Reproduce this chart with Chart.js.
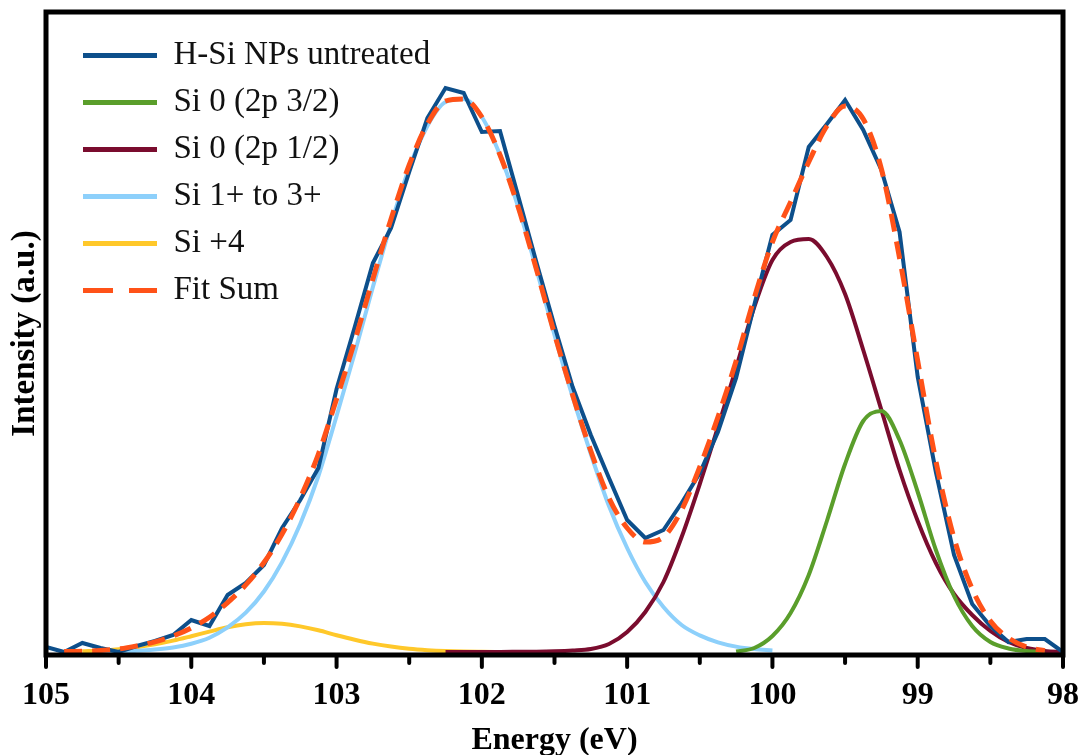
<!DOCTYPE html>
<html>
<head>
<meta charset="utf-8">
<script src="https://cdn.jsdelivr.net/npm/chart.js@4.4.1/dist/chart.umd.min.js"></script>
<style>
  html, body { margin: 0; background: #fff; }
  #wrap { width: 1087px; height: 755px; }
</style>
</head>
<body>
<div id="wrap"><canvas id="xps"></canvas></div>
<script>
// Binding energy grid (eV), one sample every 0.125 eV
const energy = [105, 104.875, 104.75, 104.625, 104.5, 104.375, 104.25, 104.125, 104,
  103.875, 103.75, 103.625, 103.5, 103.375, 103.25, 103.125, 103,
  102.875, 102.75, 102.625, 102.5, 102.375, 102.25, 102.125, 102,
  101.875, 101.75, 101.625, 101.5, 101.375, 101.25, 101.125, 101,
  100.875, 100.75, 100.625, 100.5, 100.375, 100.25, 100.125, 100,
  99.875, 99.75, 99.625, 99.5, 99.375, 99.25, 99.125, 99,
  98.875, 98.75, 98.625, 98.5, 98.375, 98.25, 98.125, 98];

// measured spectrum
const untreated = [5, 0, 9, 4, 0, 6, 11, 17, 32, 26, 57, 69, 87, 124, 152, 184, 263,
  325, 389, 424, 480, 534, 564, 559, 520, 521, 456, 390, 326, 265, 217, 174, 132,
  114, 122, 149, 179, 220, 274, 347, 417, 432, 505, 528, 552, 522, 482, 420, 275,
  180, 97, 48, 26, 10, 13, 13, 0];

// fitted components (null = not drawn there)
const si0_32 = [null, null, null, null, null, null, null, null, null, null, null, null, null, null, null, null, null,
  null, null, null, null, null, null, null, null, null, null, null, null, null, null, null, null,
  null, null, null, null, null, 0.5, 4, 16, 39, 77, 131, 188, 231, 241, 212, 160,
  102, 56, 26, 10, 3.5, 0.9, 0.2, null];

const si0_12 = [null, null, null, null, null, null, null, null, null, null, null, null, null, null, null, null, null,
  null, null, null, null, null, 0, 0, 0.1, 0.1, 0.2, 0.3, 0.7, 1.5, 3, 8, 20,
  40, 70, 115, 168, 225, 284, 345, 392, 410, 413, 395, 358, 302, 242, 182, 131,
  89, 58, 37, 21, 10, 4, 1, 0];

const si1to3 = [null, null, null, 0.1, 0.2, 1.3, 2.5, 4.6, 8.3, 14.3, 24.6, 39.3, 60.5, 89.9, 128, 176, 236,
  299, 365, 428, 484, 526, 550, 553, 535, 497, 445, 383, 317, 255, 198, 146, 104,
  70, 45, 27, 16.6, 9.7, 5.4, 2.9, 1.5, null, null, null, null, null, null, null, null,
  null, null, null, null, null, null, null, null];

const si4 = [null, null, 0.7, 1.5, 2.8, 4.8, 7.7, 11.4, 15.8, 20.4, 24.8, 27.8, 29, 28.2, 25.6, 21.7, 16.8,
  12.3, 8.4, 5.4, 3.2, 1.8, 0.9, 0.4, 0.2, 0.1, 0, null, null, null, null, null, null,
  null, null, null, null, null, null, null, null, null, null, null, null, null, null, null, null,
  null, null, null, null, null, null, null, null];

const fitSum = [null, 0.4, 0.7, 1.6, 3, 6.1, 10.2, 16, 24.1, 34.7, 49.4, 67.1, 89.5, 118, 154, 198, 253,
  311, 373, 433, 487, 528, 551, 553, 535, 497, 445, 383, 318, 257, 201, 154, 124,
  110, 115, 142, 185, 235, 291, 354, 410, 450, 490, 526, 546, 533, 483, 394, 291,
  191, 114, 63, 31, 14, 5, 1.2, null];

const xTickLabels = ["105", "104", "103", "102", "101", "100", "99", "98"];

const SERIF = "'Liberation Serif', 'Times New Roman', serif";

function points(values) {
  return energy.map((e, i) => ({ x: e, y: values[i] }));
}

function component(label, values, color) {
  return {
    label,
    data: points(values),
    borderColor: color,
    backgroundColor: color,
    borderWidth: 4,
    pointRadius: 0,
    cubicInterpolationMode: "monotone",
    order: 2,
  };
}

// frame round the plot area plus the outward tick marks (integers longer than halves)
const frameAndTicks = {
  id: "frameAndTicks",
  afterDraw(chart) {
    const { ctx, chartArea: a } = chart;
    const x = chart.scales.x;
    ctx.save();
    ctx.strokeStyle = "#000";
    ctx.lineWidth = 5;
    ctx.strokeRect(a.left, a.top, a.right - a.left, a.bottom - a.top);
    ctx.lineWidth = 4;
    ctx.lineCap = "round";
    x.ticks.forEach((t) => {
      const px = x.getPixelForValue(t.value);
      const len = Number.isInteger(t.value) ? 12 : 8;
      ctx.beginPath();
      ctx.moveTo(px, a.bottom);
      ctx.lineTo(px, a.bottom + len);
      ctx.stroke();
    });
    ctx.restore();
  },
};

// the legend sits inside the plot area, nudged in from the corner
const legendOffset = {
  id: "legendOffset",
  afterLayout(chart) {
    chart.legend.left = chart.chartArea.left + 23;
    chart.legend.top = chart.chartArea.top + 13;
  },
};

new Chart(document.getElementById("xps"), {
  type: "line",
  data: {
    datasets: [
      {
        label: "H-Si NPs untreated",
        data: points(untreated),
        borderColor: "#0d4f8b",
        backgroundColor: "#0d4f8b",
        borderWidth: 4,
        pointRadius: 0,
        tension: 0,
        order: 1,
      },
      component("Si 0 (2p 3/2)", si0_32, "#5a9e2b"),
      component("Si 0 (2p 1/2)", si0_12, "#7a0c2e"),
      component("Si 1+ to 3+", si1to3, "#8dd0fb"),
      component("Si +4", si4, "#ffc82a"),
      {
        label: "Fit Sum",
        data: points(fitSum),
        borderColor: "#ff5218",
        backgroundColor: "#ff5218",
        borderWidth: 5,
        borderDash: [18, 10],
        pointRadius: 0,
        cubicInterpolationMode: "monotone",
        order: 0,
      },
    ],
  },
  options: {
    responsive: true,
    maintainAspectRatio: false,
    animation: false,
    devicePixelRatio: 1,
    layout: { padding: { left: 8, top: 12, right: 24, bottom: 0 } },
    scales: {
      x: {
        type: "linear",
        reverse: true,
        min: 98,
        max: 105,
        afterFit: (s) => {
          s.height = 100;
          s.paddingLeft = 0;
          s.paddingRight = 0;
        },
        ticks: {
          stepSize: 0.5,
          autoSkip: false,
          maxRotation: 0,
          padding: 25,
          color: "#000",
          font: { family: SERIF, size: 32, weight: "bold", lineHeight: 1 },
          callback: (v) => (Number.isInteger(v) ? xTickLabels[105 - v] : ""),
        },
        grid: { display: false, drawTicks: false },
        border: { display: false },
        title: {
          display: true,
          text: "Energy (eV)",
          color: "#000",
          font: { family: SERIF, size: 32, weight: "bold", lineHeight: 1 },
          padding: { top: 0, bottom: -2 },
        },
      },
      y: {
        min: -3,
        max: 640,
        afterFit: (s) => { s.width = 38; },
        ticks: { display: false },
        grid: { display: false, drawTicks: false },
        border: { display: false },
        title: {
          display: true,
          text: "Intensity (a.u.)",
          color: "#000",
          font: { family: SERIF, size: 33, weight: "bold", lineHeight: 1 },
          padding: { top: 1, bottom: 0 },
        },
      },
    },
    plugins: {
      tooltip: { enabled: false },
      legend: {
        position: "chartArea",
        align: "start",
        labels: {
          usePointStyle: true,
          pointStyleWidth: 74,
          padding: 14,
          color: "#111",
          font: { family: SERIF, size: 33 },
          sort: (a, b) => a.datasetIndex - b.datasetIndex,
          generateLabels(chart) {
            const items = Chart.defaults.plugins.legend.labels.generateLabels(chart);
            items.forEach((it) => {
              const ds = chart.data.datasets[it.datasetIndex];
              it.pointStyle = "line";
              it.lineWidth = 5;
              it.lineDash = ds.borderDash ? [30, 16] : [];
            });
            return items;
          },
        },
      },
    },
  },
  plugins: [frameAndTicks, legendOffset],
});
</script>
</body>
</html>
